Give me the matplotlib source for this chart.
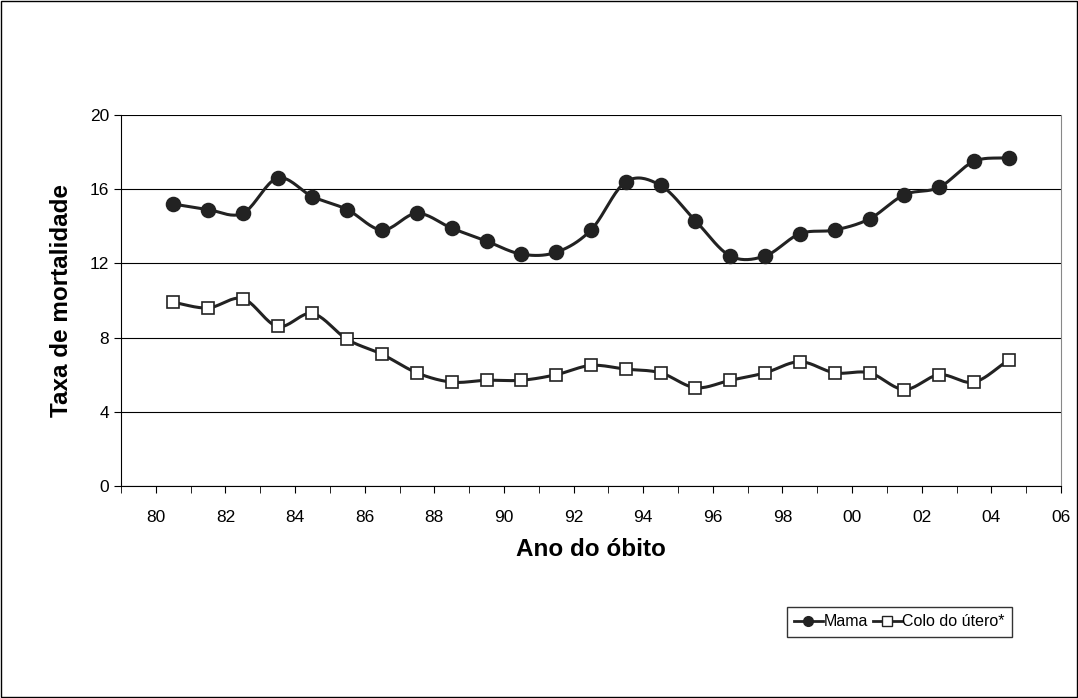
import numpy as np
import matplotlib.pyplot as plt
from matplotlib.patches import Rectangle

plt.rcParams['font.family'] = ['Liberation Sans', 'DejaVu Sans']

years = list(range(1980, 2005))
mama = [15.2, 14.9, 14.7, 16.6, 15.6, 14.9, 13.8, 14.7, 13.9, 13.2, 12.5, 12.6, 13.8,
        16.4, 16.2, 14.3, 12.4, 12.4, 13.6, 13.8, 14.4, 15.7, 16.1, 17.5, 17.7]
colo = [9.9, 9.6, 10.1, 8.6, 9.3, 7.9, 7.1, 6.1, 5.6, 5.7, 5.7, 6.0, 6.5,
        6.3, 6.1, 5.3, 5.7, 6.1, 6.7, 6.1, 6.1, 5.2, 6.0, 5.6, 6.8]
tick_years = list(range(1980, 2007, 2))


def smooth(xv, y, n=20):
    # Catmull-Rom curve through the points, like Excel's smoothed line
    p = np.asarray(y, float)
    p = np.concatenate([[2 * p[0] - p[1]], p, [2 * p[-1] - p[-2]]])
    xs, ys = [], []
    for i in range(1, len(p) - 2):
        t = np.linspace(0, 1, n, endpoint=False)
        p0, p1, p2, p3 = p[i - 1], p[i], p[i + 1], p[i + 2]
        v = 0.5 * (2 * p1 + (-p0 + p2) * t + (2 * p0 - 5 * p1 + 4 * p2 - p3) * t ** 2
                   + (-p0 + 3 * p1 - 3 * p2 + p3) * t ** 3)
        xs.extend(xv[i - 1] + t * (xv[i] - xv[i - 1]))
        ys.extend(v)
    xs.append(xv[-1])
    ys.append(y[-1])
    return np.array(xs), np.array(ys)


fig = plt.figure(figsize=(10.78, 6.98), dpi=100)
fig.patches.append(Rectangle((0.001, 0.001), 0.998, 0.997, transform=fig.transFigure,
                             fill=False, edgecolor='black', lw=1))
ax = fig.add_axes([121 / 1078, 1 - 486 / 698, 940 / 1078, 371 / 698])
x = np.array(years) + 0.5
for vals, mk, mfc in ((mama, 'o', '#222222'), (colo, 's', 'white')):
    sx, sy = smooth(x, vals)
    ax.plot(sx, sy, color='#222222', lw=2.2)
    ax.plot(x, vals, ls='none', marker=mk, ms=10 if mk == 'o' else 9,
            mfc=mfc, mec='#222222', mew=1.2)

ax.set_xlim(1979, 2006)
ax.set_ylim(0, 20)
ax.set_yticks(range(0, 21, 4))
ax.yaxis.grid(True, color='black', lw=0.8)
ax.set_xticks(tick_years)
ax.set_xticklabels([f"{y % 100:02d}" for y in tick_years], fontsize=12.5)
ax.set_xticks(range(1979, 2007), minor=True)
ax.tick_params(axis='x', which='major', length=5, pad=12)
ax.tick_params(axis='x', which='minor', length=5)
ax.tick_params(axis='y', labelsize=12.5, length=5)
ax.spines['top'].set_visible(False)
ax.spines['right'].set_color('#888888')
ax.set_axisbelow(True)
ax.set_xlabel('Ano do óbito', fontsize=17.5, fontweight='bold', labelpad=10)
ax.set_ylabel('Taxa de mortalidade', fontsize=17.5, fontweight='bold', labelpad=12)

h1, = ax.plot([], [], color='#222222', lw=2, marker='o', ms=7, mfc='#222222', mec='#222222')
h2, = ax.plot([], [], color='#222222', lw=2, marker='s', ms=7, mfc='white', mec='#222222')
fig.legend([h1, h2], ['Mama', 'Colo do útero*'], loc='center right',
           bbox_to_anchor=(1012 / 1078, 1 - 622 / 698), ncol=2, fontsize=11.5,
           frameon=True, fancybox=False, edgecolor='black', handlelength=1.8,
           columnspacing=0.3, handletextpad=0.05, borderpad=0.45, borderaxespad=0)
fig.savefig('out.png', dpi=100)
